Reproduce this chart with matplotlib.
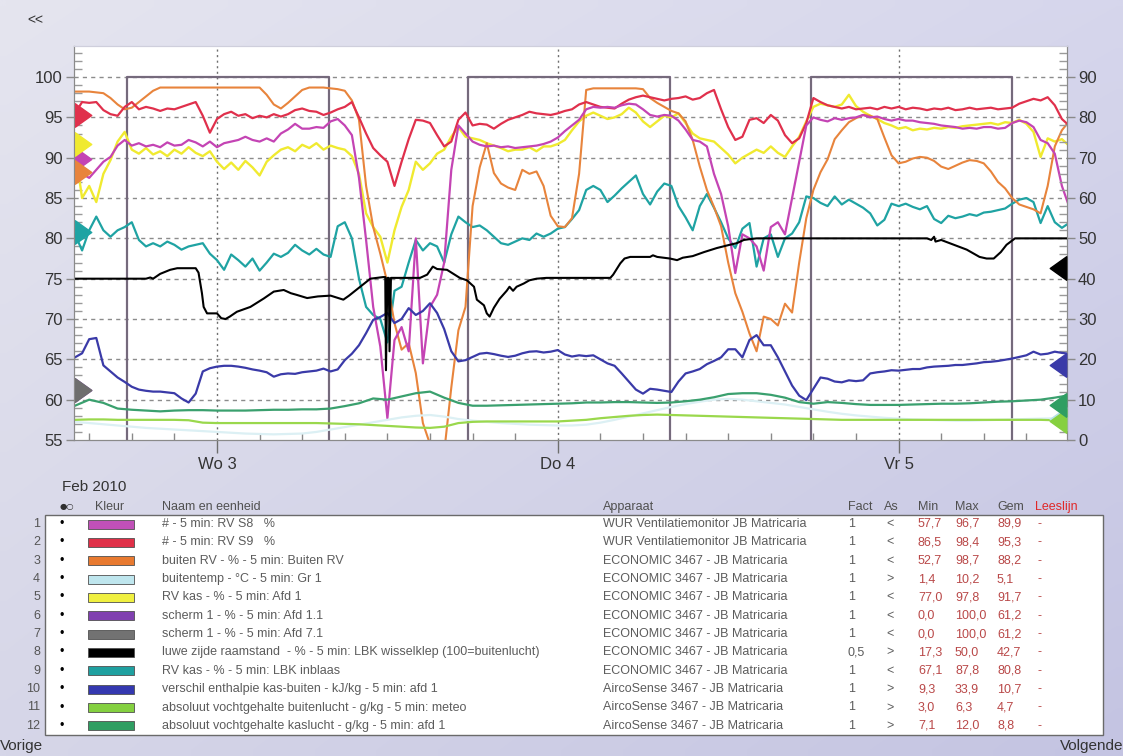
import numpy as np
import matplotlib
matplotlib.use("Agg")
import matplotlib.pyplot as plt
from matplotlib.patches import Rectangle
from matplotlib.ticker import MultipleLocator
import matplotlib.transforms as mtransforms

plt.rcParams['font.family'] = ['Liberation Sans', 'DejaVu Sans']

W, H = 1123, 756

# ---------------------------------------------------------------- data
# hours relative to Wed 3 Feb 2010 00:00
hours_half = np.arange(-10, 60.01, 0.5)
hours_full = np.arange(-10, 61, 1.0)

rv_s8 = [89.0, 88.0, 87.5, 88.5, 89.5, 90.1, 91.5, 92.2, 91.5, 91.8,
         91.4, 91.6, 91.3, 91.9, 91.5, 91.6, 92.2, 91.9, 91.4, 92.0,
         91.3, 91.8, 92.0, 92.2, 92.6, 92.2, 92.0, 92.4, 92.0, 93.0,
         93.5, 94.2, 93.6, 93.6, 93.8, 93.7, 94.5, 94.8, 94.0, 92.8,
         87.5, 79.8, 71.5, 66.6, 57.7, 67.4, 69.0, 66.0, 80.0, 64.5,
         71.5, 73.0, 77.0, 88.5, 94.0, 93.0, 92.0, 91.6, 91.4, 91.5,
         91.3, 91.4, 91.2, 91.3, 91.4, 91.5, 91.7, 92.0, 92.5, 93.3,
         94.0, 94.7, 96.0, 96.3, 96.2, 96.3, 96.2, 96.5, 96.7, 96.6,
         96.0, 95.3, 95.1, 95.3, 95.2, 94.6, 93.5, 92.2, 92.0, 91.4,
         88.0, 85.5, 81.5, 75.7, 80.5, 80.0, 79.0, 76.0, 81.4, 82.0,
         80.5, 85.0, 89.5, 94.0, 95.0, 94.7, 94.5, 94.9, 94.7, 94.9,
         95.0, 95.3, 95.0, 95.1, 94.8, 94.6, 94.8, 94.6, 94.6, 94.4,
         94.3, 94.2, 94.0, 93.9, 93.8, 93.6, 93.7, 93.6, 93.8, 93.8,
         93.6, 93.7, 94.3, 94.6, 94.4, 93.8, 92.2, 91.8, 90.5, 86.5,
         84.0]

rv_s9 = [95.5, 96.9, 96.8, 96.9, 95.9, 95.4, 95.2, 96.3, 96.9, 96.0,
         96.3, 96.1, 95.8, 96.1, 96.0, 96.3, 96.6, 96.9, 95.2, 93.1,
         94.8, 95.4, 95.7, 95.2, 95.4, 94.9, 95.2, 95.0, 95.4, 95.1,
         95.4, 95.9, 96.1, 95.8, 95.7, 95.3, 95.6, 96.0, 96.3, 96.9,
         95.0, 93.0, 91.2, 90.3, 89.5, 86.5, 89.5, 92.3, 94.7, 94.6,
         94.3, 92.8, 91.4, 92.0, 94.7, 95.6, 94.0, 94.2, 94.1, 93.6,
         94.2, 94.7, 95.0, 95.3, 95.7, 95.5, 95.4, 95.3, 95.5, 95.8,
         96.0, 96.6, 96.9, 96.6, 96.3, 96.2, 96.1, 96.7, 97.2, 97.5,
         97.7, 97.5, 97.3, 97.1, 97.3, 97.4, 97.6, 97.2, 97.4, 98.0,
         98.4, 96.0, 93.8, 92.2, 92.6, 94.7, 94.9, 94.3, 95.3, 94.6,
         92.8, 91.8, 92.4, 94.3, 97.4, 96.9, 96.5, 96.3, 96.1, 96.3,
         96.0, 96.1, 96.2, 96.0, 96.3, 96.1, 96.3, 96.0, 96.2, 96.1,
         95.9, 96.1, 96.0, 96.2, 95.9, 96.0, 96.2, 96.0, 96.1, 96.2,
         96.0, 96.1, 96.2, 96.7, 97.0, 97.3, 97.1, 97.5, 96.5, 94.8,
         94.0]

buiten_rv = [98.2, 98.2, 98.2, 98.1, 98.0, 97.4, 96.6, 96.0, 96.2, 96.9,
             97.6, 98.3, 98.7, 98.7, 98.7, 98.7, 98.7, 98.7, 98.7, 98.7,
             98.7, 98.7, 98.7, 98.7, 98.7, 98.7, 98.7, 97.8, 96.6, 96.1,
             96.8, 97.6, 98.4, 98.7, 98.7, 98.7, 98.6, 98.5, 98.3, 97.1,
             94.7, 86.5, 81.4, 78.1, 74.5, 69.5, 66.2, 67.0, 63.3, 57.1,
             54.5, 52.7, 53.5, 61.5, 68.6, 71.5, 84.0, 88.8, 91.8, 88.1,
             86.8, 86.3, 86.0, 88.5, 88.0, 88.3, 86.5, 82.8, 81.5, 81.4,
             82.5, 88.0, 98.4, 98.6, 98.6, 98.6, 98.6, 98.6, 98.6, 98.6,
             98.5, 97.4, 96.8, 96.3, 95.8, 95.5, 94.5, 92.2, 88.9, 86.0,
             83.9, 81.5, 77.0, 73.2, 70.9, 68.2, 66.0, 70.3, 70.0, 69.2,
             71.9, 70.8, 77.0, 82.5, 86.0, 88.2, 89.8, 92.3, 93.4, 94.4,
             94.9, 95.3, 95.2, 94.8, 92.5, 90.3, 89.3, 89.5, 89.9, 90.1,
             90.0, 89.6, 88.9, 88.6, 89.0, 89.4, 89.7, 89.6, 89.3, 88.3,
             87.0, 86.2, 85.0, 84.2, 83.9, 83.6, 83.1, 86.5, 91.4, 93.4,
             94.5]

rv_kas_afd1 = [91.0, 85.0, 86.5, 84.5, 88.0, 89.7, 92.0, 93.2, 91.0, 90.5,
               91.2, 90.4, 90.8, 90.2, 91.0, 90.5, 91.3, 90.6, 90.2, 90.8,
               89.5, 88.6, 89.4, 88.5, 89.6, 88.8, 87.8, 89.5, 90.3, 91.0,
               91.3, 90.8, 91.6, 91.2, 91.8, 91.0, 91.5, 91.2, 91.0, 90.2,
               88.0, 83.1, 81.4, 80.2, 77.0, 81.0, 83.9, 86.0, 89.5, 88.5,
               89.3, 90.5, 91.0, 92.6, 93.8, 92.6, 92.4, 92.2, 91.8, 91.5,
               91.2, 90.8, 91.0, 91.0, 91.3, 90.8, 91.4, 91.4, 91.7, 92.2,
               93.4, 94.5, 95.2, 95.6, 95.2, 94.8, 95.0, 95.4, 96.2, 95.6,
               94.5, 93.8, 94.5, 95.2, 95.0, 95.5, 94.3, 93.0, 92.4, 92.2,
               92.0, 91.2, 90.4, 89.3, 90.0, 90.5, 91.0, 90.6, 91.4, 90.6,
               90.1, 91.4, 92.6, 94.5, 96.3, 96.7, 96.5, 96.3, 96.6, 97.8,
               96.4, 95.7, 95.2, 94.8, 94.3, 94.0, 93.6, 93.8, 93.4, 93.6,
               93.5, 93.7, 93.6, 93.8, 93.7, 93.9, 94.0, 94.1, 94.2, 94.3,
               94.1, 94.4, 94.3, 94.7, 94.2, 93.2, 90.1, 92.4, 92.0, 92.3,
               91.5]

rv_kas_inblaas = [80.5, 78.5, 81.0, 82.7, 81.0, 80.2, 81.0, 81.4, 82.0, 79.8,
                  79.0, 79.4, 79.0, 79.6, 79.2, 78.6, 79.0, 79.2, 79.4, 78.1,
                  77.3, 76.1, 78.0, 77.3, 76.5, 77.5, 76.0, 77.0, 78.1, 77.7,
                  78.2, 79.2, 78.5, 78.0, 78.7, 78.0, 77.7, 81.5, 82.0, 80.0,
                  75.0, 71.5, 70.5, 70.0, 67.1, 73.5, 74.0, 77.0, 79.8, 78.5,
                  79.4, 79.0, 77.0, 80.5, 82.7, 82.0, 81.4, 81.6, 81.0, 80.2,
                  79.4, 79.2, 79.6, 80.0, 79.8, 80.6, 80.2, 80.6, 81.2, 81.4,
                  82.4, 83.5, 86.0, 86.5, 86.0, 84.5, 85.3, 86.2, 87.0, 87.8,
                  85.5, 84.2, 85.8, 86.8, 86.5, 84.0, 82.6, 81.0, 84.0, 85.5,
                  83.8, 82.0, 80.0, 78.8, 81.2, 81.9, 76.5, 80.0, 80.5, 77.7,
                  80.0, 80.6, 82.0, 85.2, 85.0, 84.4, 84.0, 85.2, 84.2, 84.8,
                  84.3, 83.8, 83.1, 81.6, 82.3, 84.3, 84.0, 84.3, 83.9, 83.6,
                  84.0, 82.4, 81.9, 82.8, 82.5, 82.7, 83.0, 82.8, 83.2, 83.3,
                  83.5, 83.7, 84.3, 84.8, 85.0, 84.5, 81.9, 84.0, 82.0, 81.3,
                  81.9]

enthalpie = [20.5, 21.5, 25.0, 25.3, 18.5, 17.0, 15.5, 14.4, 13.2, 12.5,
             12.2, 12.0, 12.0, 11.8, 11.6, 10.3, 9.3, 11.5, 17.0, 17.8,
             18.2, 18.4, 18.4, 18.2, 17.9, 17.5, 17.2, 16.8, 15.7, 16.3,
             16.5, 16.4, 16.8, 17.0, 17.2, 17.7, 17.0, 17.5, 19.8, 21.4,
             23.5, 26.5, 29.8, 30.5, 31.5, 29.0, 30.0, 32.7, 31.0, 32.0,
             33.9, 31.5, 27.5, 22.0, 19.5, 19.8, 20.6, 21.4, 21.6, 21.3,
             20.9, 20.6, 20.9, 21.5, 21.9, 22.0, 21.7, 21.9, 22.3, 21.2,
             20.7, 21.0, 20.8, 21.0, 20.0, 19.0, 18.4, 16.5, 14.5, 12.5,
             11.5, 12.7, 12.5, 12.2, 11.9, 14.5, 16.5, 17.0, 17.6, 18.8,
             19.6, 20.5, 22.5, 22.5, 20.5, 24.8, 26.0, 23.5, 23.5, 20.5,
             17.0, 13.5, 11.0, 9.9, 12.7, 15.5, 15.2, 14.5, 14.3, 14.8,
             14.6, 14.8, 16.5, 16.8, 17.0, 17.3, 17.2, 17.4, 17.6, 17.6,
             18.0, 18.2, 18.3, 18.4, 18.6, 18.6, 18.8, 19.0, 19.3, 19.4,
             19.6, 19.9, 20.2, 20.6, 21.0, 21.9, 21.2, 21.4, 21.9, 21.6,
             21.4]

vocht_kas = [8.5, 10.0, 9.2, 7.8, 7.5, 7.3, 7.1, 7.3, 7.4, 7.4,
             7.3, 7.3, 7.3, 7.4, 7.5, 7.5, 7.6, 7.6, 7.8, 8.4,
             9.1, 10.3, 10.0, 10.8, 11.6, 12.0, 10.5, 9.2, 8.5, 8.5,
             8.6, 8.7, 8.8, 8.9, 9.0, 9.1, 9.3, 9.3, 9.4, 9.4,
             9.3, 9.2, 9.3, 9.6, 10.0, 10.6, 11.4, 11.6, 11.6, 11.2,
             10.5, 9.4, 9.0, 9.4, 9.2, 8.9, 8.7, 8.7, 8.7, 8.8,
             8.9, 9.0, 9.0, 9.1, 9.3, 9.5, 9.6, 9.8, 10.0, 10.5,
             11.1]

vocht_buiten = [5.0, 5.1, 5.1, 5.0, 5.0, 5.0, 5.0, 5.0, 4.9, 4.3,
                4.2, 4.2, 4.2, 4.2, 4.2, 4.2, 4.2, 4.2, 4.1, 4.0,
                3.9, 3.7, 3.5, 3.3, 3.1, 3.0, 3.3, 4.2, 4.5, 4.6,
                4.6, 4.6, 4.6, 4.6, 4.6, 4.8, 5.0, 5.4, 5.7, 6.0,
                6.2, 6.3, 6.2, 6.1, 6.0, 5.9, 5.8, 5.7, 5.6, 5.5,
                5.4, 5.3, 5.2, 5.1, 5.0, 5.0, 5.0, 5.0, 5.0, 5.0,
                5.0, 5.0, 5.0, 5.0, 5.0, 5.0, 5.0, 5.0, 5.0, 4.9,
                4.9]

buitentemp = [4.5, 4.2, 3.9, 3.6, 3.3, 3.0, 2.8, 2.6, 2.4, 2.2,
              2.0, 1.8, 1.6, 1.5, 1.4, 1.5, 1.6, 2.0, 2.6, 3.2,
              3.8, 4.4, 5.0, 5.6, 6.0, 6.2, 5.8, 5.2, 4.8, 4.5,
              4.2, 4.0, 3.8, 3.7, 3.6, 3.6, 3.8, 4.3, 5.0, 5.8,
              6.6, 7.4, 8.2, 8.9, 9.5, 10.0, 10.2, 10.0, 9.6, 9.2,
              8.8, 8.2, 7.6, 7.0, 6.5, 6.1, 5.8, 5.5, 5.3, 5.1,
              5.0, 4.9, 4.8, 4.8, 4.9, 5.0, 5.1, 5.2, 5.3, 5.4,
              5.5]

# vent position (lee side), breakpoints in hours
raam_hours = [-10.07, -5.0, -4.7, -4.5, -4.0, -3.3, -2.8, -1.5, -1.3, -1.06,
              -0.94, -0.7, 0.0, 0.3, 0.6, 0.9, 1.4, 2.35, 3.3, 4.0,
              4.7, 5.2, 5.6, 6.35, 7.1, 8.0, 8.9, 9.3, 9.8, 10.3,
              10.8, 11.7, 11.85, 11.9, 12.0, 12.1, 12.15, 12.25, 14.3, 14.8,
              15.2, 15.5, 16.2, 17.1, 17.6, 18.1, 18.3, 18.8, 19.0, 19.2,
              19.5, 19.9, 20.4, 20.6, 20.85, 21.1, 21.6, 22.0, 22.5, 23.2,
              27.7, 27.9, 28.4, 28.7, 29.1, 30.5, 30.7, 31.0, 31.9, 32.4,
              32.8, 33.5, 34.3, 35.2, 36.1, 36.6, 37.1, 37.5, 38.0, 50.0,
              50.3, 50.5, 50.6, 51.0, 51.9, 52.8, 53.7, 54.2, 54.7, 55.2,
              55.6, 56.2, 59.86]
raam_values = [40, 40, 40.3, 40.0, 41.2, 42.2, 42.6, 42.6, 41.5, 36.4,
               33.0, 31.4, 31.4, 30.2, 30.0, 30.6, 31.8, 33.0, 35.1, 36.8,
               37.2, 36.4, 36.0, 35.2, 35.6, 35.8, 34.8, 35.8, 37.2, 38.6,
               40.0, 40.4, 40.4, 17.3, 40.2, 40.2, 22.0, 40.2, 40.2, 41.0,
               43.0, 42.4, 42.2, 40.2, 39.6, 38.0, 34.8, 33.4, 31.4, 30.6,
               32.8, 35.0, 37.0, 38.0, 37.0, 38.0, 38.8, 39.6, 40.0, 40.2,
               40.2, 41.0, 43.8, 45.0, 45.4, 45.4, 45.8, 45.4, 45.0, 44.6,
               45.2, 45.6, 46.6, 47.6, 48.4, 48.8, 49.6, 49.8, 50.0, 50.0,
               49.6, 50.4, 49.2, 49.6, 48.4, 47.2, 45.4, 45.0, 45.0, 46.6,
               48.4, 50.0, 50.0]

# screen position (0 / 100 %), switching times
scherm_hours = [-10.07, -6.34, 7.9, 17.7, 31.9, 41.8, 56.0, 59.86]
scherm_values = [0, 100, 0, 100, 0, 100, 0, 0]

day_ticks = [0, 24, 48]
day_labels = ['Wo 3', 'Do 4', 'Vr 5']

# axis indicator triangles
left_marker_values = [89.9, 95.3, 88.2, 91.7, 61.2, 61.2, 80.8]
left_marker_colors = ['#c444b4', '#e0304c', '#e8843c', '#f0ea30', '#8040b0', '#6e6e6e', '#1fa3a3']
right_marker_values = [5.1, 42.7, 18.7, 4.7, 8.8]
right_marker_colors = ['#b8e2ea', '#000000', '#3a3aa8', '#86d040', '#2f9e62']

# legend table
row_names = [
    '# - 5 min: RV S8   %',
    '# - 5 min: RV S9   %',
    'buiten RV - % - 5 min: Buiten RV',
    'buitentemp - \u00b0C - 5 min: Gr 1',
    'RV kas - % - 5 min: Afd 1',
    'scherm 1 - % - 5 min: Afd 1.1',
    'scherm 1 - % - 5 min: Afd 7.1',
    'luwe zijde raamstand  - % - 5 min: LBK wisselklep (100=buitenlucht)',
    'RV kas - % - 5 min: LBK inblaas',
    'verschil enthalpie kas-buiten - kJ/kg - 5 min: afd 1',
    'absoluut vochtgehalte buitenlucht - g/kg - 5 min: meteo',
    'absoluut vochtgehalte kaslucht - g/kg - 5 min: afd 1',
]
row_devices = ['WUR Ventilatiemonitor JB Matricaria'] * 2 + \
              ['ECONOMIC 3467 - JB Matricaria'] * 7 + \
              ['AircoSense 3467 - JB Matricaria'] * 3
row_fact = ['1', '1', '1', '1', '1', '1', '1', '0,5', '1', '1', '1', '1']
row_axis = ['<', '<', '<', '>', '<', '<', '<', '>', '<', '>', '>', '>']
row_min = ['57,7', '86,5', '52,7', '1,4', '77,0', '0,0', '0,0', '17,3', '67,1', '9,3', '3,0', '7,1']
row_max = ['96,7', '98,4', '98,7', '10,2', '97,8', '100,0', '100,0', '50,0', '87,8', '33,9', '6,3', '12,0']
row_gem = ['89,9', '95,3', '88,2', '5,1', '91,7', '61,2', '61,2', '42,7', '80,8', '10,7', '4,7', '8,8']
row_colors = ['#c050b8', '#e03048', '#e87a30', '#bfe6ee', '#f0f040', '#8040b0',
              '#727272', '#000000', '#1fa0a0', '#3438b0', '#84d040', '#2f9e62']

# ---------------------------------------------------------------- figure
fig = plt.figure(figsize=(W / 100, H / 100), dpi=100)

# full-size overlay in pixel units: background gradient and table
ui = fig.add_axes([0, 0, 1, 1])
ui.set_zorder(-1)
gy, gx = np.mgrid[0:1:60j, 0:1:90j]
tl = np.array([229, 229, 239]); tr = np.array([214, 214, 236])
bl = np.array([214, 214, 232]); br = np.array([196, 196, 226])
grad = (tl * ((1 - gx) * (1 - gy))[..., None] + tr * (gx * (1 - gy))[..., None]
        + bl * ((1 - gx) * gy)[..., None] + br * (gx * gy)[..., None]) / 255.0
ui.imshow(grad, extent=(0, W, H, 0), aspect='auto', interpolation='bilinear')
ui.set_xlim(0, W)
ui.set_ylim(H, 0)
ui.axis('off')

# chart axes
ax = fig.add_axes([74 / W, 1 - 440 / H, 993 / W, 394 / H])
ax.set_xlim(-10.07, 59.86)
ax.set_ylim(55, 103.85)
ax.set_facecolor('white')
ax2 = ax.twinx()
ax2.set_ylim(0, 97.7)

axis_gray = '#8a8a8a'
for a in (ax, ax2):
    for side in ('left', 'right', 'bottom'):
        a.spines[side].set_color(axis_gray)
    a.spines['top'].set_color('#cfcfdc')

# grid
for v in np.arange(60, 101, 5):
    ax.axhline(v, color='#8c8c8c', lw=1.0, ls=(0, (3, 3)), zorder=0.5)
for d in day_ticks:
    ax.axvline(d, color='#6e6e6e', lw=1.0, ls=(0, (1.5, 2.5)), zorder=0.5)

# ticks
ax.set_yticks(np.arange(55, 101, 5))
ax.yaxis.set_minor_locator(MultipleLocator(1))
ax.tick_params(axis='y', which='major', direction='out', length=6, width=1,
               color=axis_gray, labelsize=12, labelcolor='#333333', pad=2)
ax.tick_params(axis='y', which='minor', direction='in', length=6, width=1, color='#9a9a9a')
ax2.set_yticks(np.arange(0, 91, 10))
ax2.yaxis.set_minor_locator(MultipleLocator(2))
ax2.tick_params(axis='y', which='major', direction='out', length=6, width=1,
                color=axis_gray, labelsize=12, labelcolor='#333333', pad=2)
ax2.tick_params(axis='y', which='minor', direction='in', length=6, width=1, color='#9a9a9a')

ax.set_xticks(day_ticks)
ax.set_xticklabels(day_labels)
ax.xaxis.set_minor_locator(MultipleLocator(3))
ax.tick_params(axis='x', which='major', direction='out', length=9, width=1,
               color='#6e6e6e', labelsize=12, labelcolor='#333333', pad=3)
ax.tick_params(axis='x', which='minor', direction='in', length=5, width=1, color=axis_gray)

# screens (two screens with the same position)
ax.plot(scherm_hours, scherm_values, drawstyle='steps-post', color='#8a6a9a', lw=1.6, zorder=1)
ax.plot(scherm_hours, scherm_values, drawstyle='steps-post', color='#6f6a74', lw=1.1, zorder=1.1)

# left-axis series
ax.plot(hours_half, rv_kas_inblaas, color='#1fa3a3', lw=1.6, zorder=2)
ax.plot(hours_half, rv_kas_afd1, color='#f0ea30', lw=1.7, zorder=2.1)
ax.plot(hours_half, buiten_rv, color='#e8843c', lw=1.5, zorder=2.2)
ax.plot(hours_half, rv_s9, color='#e0304c', lw=1.6, zorder=2.3)
ax.plot(hours_half, rv_s8, color='#c444b4', lw=1.6, zorder=2.4)

# right-axis series
ax2.plot(hours_full, buitentemp, color='#dcf0f4', lw=1.6, zorder=2)
ax2.plot(hours_full, vocht_buiten, color='#9ad84c', lw=1.6, zorder=2.1)
ax2.plot(hours_full, vocht_kas, color='#3aa06e', lw=1.6, zorder=2.2)
ax2.plot(hours_half, enthalpie, color='#3a3aa8', lw=1.6, zorder=2.3)
ax2.plot(raam_hours, raam_values, color='black', lw=1.5, zorder=2.4)

# axis indicator triangles
tri_right = [(-0.7, -1.0), (0.7, 0.0), (-0.7, 1.0), (-0.7, -1.0)]
tri_left = [(0.7, -1.0), (-0.7, 0.0), (0.7, 1.0), (0.7, -1.0)]
off = 8.5 / 993
tl_tr = mtransforms.blended_transform_factory(ax.transAxes, ax.transData)
for v, c in zip(left_marker_values, left_marker_colors):
    ax.plot([off], [v], marker=tri_right, ms=17, color=c, mec=c, transform=tl_tr,
            clip_on=False, zorder=5)
tr_tr = mtransforms.blended_transform_factory(ax2.transAxes, ax2.transData)
for v, c in zip(right_marker_values, right_marker_colors):
    ax2.plot([1 - off], [v], marker=tri_left, ms=17, color=c, mec=c, transform=tr_tr,
             clip_on=False, zorder=5)

# ---------------------------------------------------------------- texts and table
txt = '#333333'
ui.text(27, 20, '<<', fontsize=10, color=txt, ha='left', va='center')
ui.text(62, 487, 'Feb 2010', fontsize=11, color=txt, ha='left', va='center')

hy = 507
head = dict(fontsize=9, color='#505050', va='center', ha='left')
ui.text(60, hy, '\u25cf\u25cb', fontsize=6, color='#303030', va='center', ha='left',
        family=['DejaVu Sans'])
ui.text(95, hy, 'Kleur', **head)
ui.text(162, hy, 'Naam en eenheid', **head)
ui.text(603, hy, 'Apparaat', **head)
ui.text(848, hy, 'Fact', **head)
ui.text(884, hy, 'As', **head)
ui.text(918, hy, 'Min', **head)
ui.text(955, hy, 'Max', **head)
ui.text(997, hy, 'Gem', **head)
ui.text(1035, hy, 'Leeslijn', fontsize=9, color='#e02828', va='center', ha='left')

ui.add_patch(Rectangle((45, 515), 1058, 220, facecolor='white', edgecolor='#6a6a6a', lw=1.0))

row_y0, row_dy = 524, 18.35
body = dict(fontsize=9, color='#5c5c5c', va='center', ha='left')
num = dict(fontsize=9, color='#b94848', va='center', ha='left')
for i in range(12):
    y = row_y0 + i * row_dy
    ui.text(40, y, str(i + 1), fontsize=9, color='#555555', va='center', ha='right')
    ui.text(62, y, '\u2022', fontsize=9, color='black', va='center', ha='center')
    ui.add_patch(Rectangle((88, y - 4.5), 46, 9, facecolor=row_colors[i],
                           edgecolor='#505050', lw=0.6))
    ui.text(162, y, row_names[i], **body)
    ui.text(603, y, row_devices[i], **body)
    ui.text(848, y, row_fact[i], **body)
    ui.text(886, y, row_axis[i], **body)
    ui.text(918, y, row_min[i], **num)
    ui.text(955, y, row_max[i], **num)
    ui.text(997, y, row_gem[i], **num)
    ui.text(1037, y, '-', **num)

ui.text(0, 746, 'Vorige', fontsize=11, color=txt, ha='left', va='center')
ui.text(1123, 746, 'Volgende', fontsize=11, color=txt, ha='right', va='center')

fig.savefig('out.png', dpi=100)
